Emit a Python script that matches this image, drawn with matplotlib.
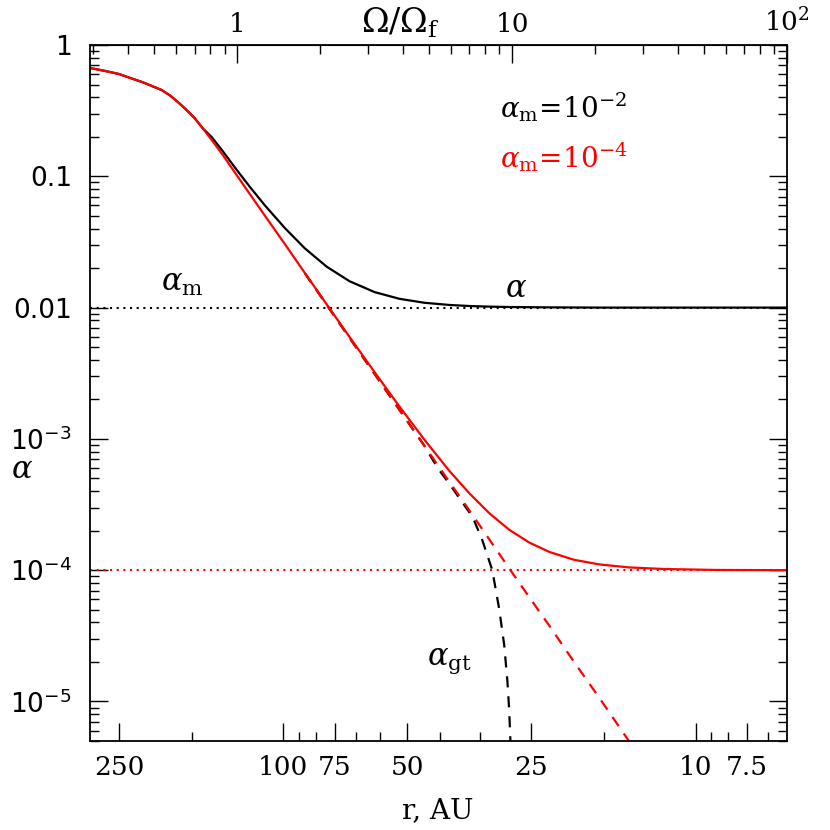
#!/usr/bin/env python
# alpha as function of radius for two values of alpha_m (gravito-turbulent + magnetic)

import numpy as np
import matplotlib
matplotlib.use("Agg")
import matplotlib.pyplot as plt
from matplotlib.ticker import FixedLocator, FixedFormatter, NullFormatter

plt.rcParams['font.family'] = 'DejaVu Serif'
plt.rcParams['mathtext.fontset'] = 'dejavuserif'

# values (r in AU)
# outer part, where both curves coincide
r_top = [294, 270, 250, 235, 220, 208, 197, 188, 180, 172, 164, 156.5]
a_top = [0.668, 0.634, 0.601, 0.561, 0.523, 0.487, 0.454, 0.4125, 0.368, 0.323, 0.278, 0.2312]

r_black = [149, 140, 131, 120.5, 110.8, 99, 88.6, 78.4, 69, 60.0, 52.2, 45.4, 39.5, 35.3,
           31.6, 28.3, 22.6, 17.1, 6.0]
a_black = [0.199, 0.155, 0.1171, 0.0833, 0.0602, 0.0403, 0.02828, 0.02049, 0.01587, 0.01312,
           0.01166, 0.01088, 0.01047, 0.01028, 0.01017, 0.0101, 0.01004, 0.0100, 0.0100]

r_red = [149, 140, 131, 120.5, 110.8, 99, 88.6, 78.4, 69, 60.0, 52.2, 45.4, 39.5, 35.3, 31.6,
         28.3, 25.3, 22.6, 19.7, 17.1, 14.5, 11.9, 8.9, 6.0]
a_red = [0.189, 0.1451, 0.1072, 0.0734, 0.0503, 0.0304, 0.01838, 0.01059, 0.00597, 0.003221,
         0.00176, 9.83e-4, 5.69e-4, 3.834e-4, 2.71e-4, 2.032e-4, 1.623e-4, 1.376e-4, 1.20e-4,
         1.106e-4, 1.05e-4, 1.021e-4, 1.004e-4, 1.0e-4]

# alpha_gt (dashed)
r_gt_red = [88.6, 78.4, 69, 60.0, 52.2, 45.4, 39.5, 35.3, 31.6, 28.3, 25.3, 22.6, 19.7, 17.1, 14.5]
a_gt_red = [0.01828, 0.01049, 0.00587, 0.003121, 0.00166, 8.83e-4, 4.69e-4, 2.834e-4, 1.71e-4,
            1.032e-4, 6.23e-5, 3.76e-5, 2.0e-5, 1.063e-5, 4.99e-6]

r_gt_black = [88.6, 78.4, 69, 60.0, 52.2, 45.4, 42.2, 39.5, 37.4, 34.7, 32.9, 31.1, 29.9, 29.1,
              28.6, 28.3, 28.1]
a_gt_black = [0.01828, 0.01049, 0.00587, 0.003121, 0.00166, 8.83e-4, 6.0e-4, 4.54e-4, 3.55e-4,
              2.54e-4, 1.70e-4, 1.0e-4, 4.98e-5, 2.69e-5, 1.46e-5, 8.6e-6, 4.9e-6]

alpha_m = [1e-2, 1e-4]

r_major = [250, 100, 75, 50, 25, 10, 7.5]
r_major_lab = ['250', '100', '75', '50', '25', '10', '7.5']
r_minor = [166.7, 91.67, 83.33, 66.67, 58.33, 41.67, 33.33, 16.67, 9.167, 8.333, 6.667]
y_major = [1, 0.1, 0.01, 1e-3, 1e-4, 1e-5]
y_major_lab = ['1', '0.1', '0.01', r'$\mathsf{10^{-3}}$', r'$\mathsf{10^{-4}}$', r'$\mathsf{10^{-5}}$']
om_major = [1, 10, 100]
om_major_lab = ['1', '10', r'$\mathregular{10^2}$']

r0 = 129.3  # radius where Omega/Omega_f = 1

fig = plt.figure(figsize=(8.3, 8.3), dpi=100)
ax = fig.add_axes([0.1084, 0.1072, 0.8398, 0.8386])

for am, c in zip(alpha_m, ['black', 'red']):
    ax.plot([294, 6.0], [am, am], color=c, ls=(0, (1, 2.2)), lw=1.5)

ax.plot(r_gt_black, a_gt_black, color='black', ls=(0, (5, 4)), lw=1.6)
ax.plot(r_gt_red, a_gt_red, color='red', ls=(0, (5, 4)), lw=1.6)
ax.plot(r_top + r_black, a_top + a_black, color='black', lw=1.6)
ax.plot(r_top + r_red, a_top + a_red, color='red', lw=1.6)

ax.set_xscale('log')
ax.set_yscale('log')
ax.set_xlim(294, 6.0)
ax.set_ylim(5e-6, 1)

ax.xaxis.set_major_locator(FixedLocator(r_major))
ax.xaxis.set_major_formatter(FixedFormatter(r_major_lab))
ax.xaxis.set_minor_locator(FixedLocator(r_minor))
ax.xaxis.set_minor_formatter(NullFormatter())
ax.yaxis.set_major_locator(FixedLocator(y_major))
ax.yaxis.set_major_formatter(FixedFormatter(y_major_lab))

ax.tick_params(which='both', direction='in', top=False, right=True, width=1.0)
ax.tick_params(which='major', length=13, labelsize=19)
ax.tick_params(which='minor', length=6.5)
ax.tick_params(axis='x', which='major', pad=10)
ax.tick_params(axis='y', which='major', pad=13)
for lab in ax.get_yticklabels():
    lab.set_family('DejaVu Sans')
for s in ax.spines.values():
    s.set_linewidth(1.3)

sec = ax.secondary_xaxis('top', functions=(lambda r: (r0 / r) ** 1.5,
                                           lambda om: r0 / om ** (2.0 / 3.0)))
sec.xaxis.set_major_locator(FixedLocator(om_major))
sec.xaxis.set_major_formatter(FixedFormatter(om_major_lab))
om_minor = [m * d for d in [0.1, 1, 10] for m in range(2, 10)]
sec.xaxis.set_minor_locator(FixedLocator(om_minor))
sec.xaxis.set_minor_formatter(NullFormatter())
sec.tick_params(which='both', direction='in', width=1.0)
sec.tick_params(which='major', length=13, labelsize=19, pad=6)
sec.tick_params(which='minor', length=6.5)

ax.text(176, 0.0154, r'$\alpha_{\mathrm{m}}$', fontsize=22, ha='center', va='center')
ax.text(27.3, 0.0139, r'$\alpha$', fontsize=22, ha='center', va='center')
ax.text(39.5, 2.07e-5, r'$\alpha_{\mathrm{gt}}$', fontsize=22, ha='center', va='center')
ax.text(0.588, 0.911, r'$\alpha_{\mathrm{m}}\!=\!10^{-2}$', fontsize=20, color='black',
        transform=ax.transAxes, ha='left', va='center')
ax.text(0.588, 0.839, r'$\alpha_{\mathrm{m}}\!=\!10^{-4}$', fontsize=20, color='red',
        transform=ax.transAxes, ha='left', va='center')

fig.text(0.482, 0.972, r'$\Omega/\Omega_{\mathrm{f}}$', fontsize=24, ha='center', va='center')
fig.text(0.527, 0.024, 'r, AU', fontsize=20, ha='center', va='center')
fig.text(0.0265, 0.434, r'$\alpha$', fontsize=22, ha='center', va='center')

fig.savefig('out.png', dpi=100)
